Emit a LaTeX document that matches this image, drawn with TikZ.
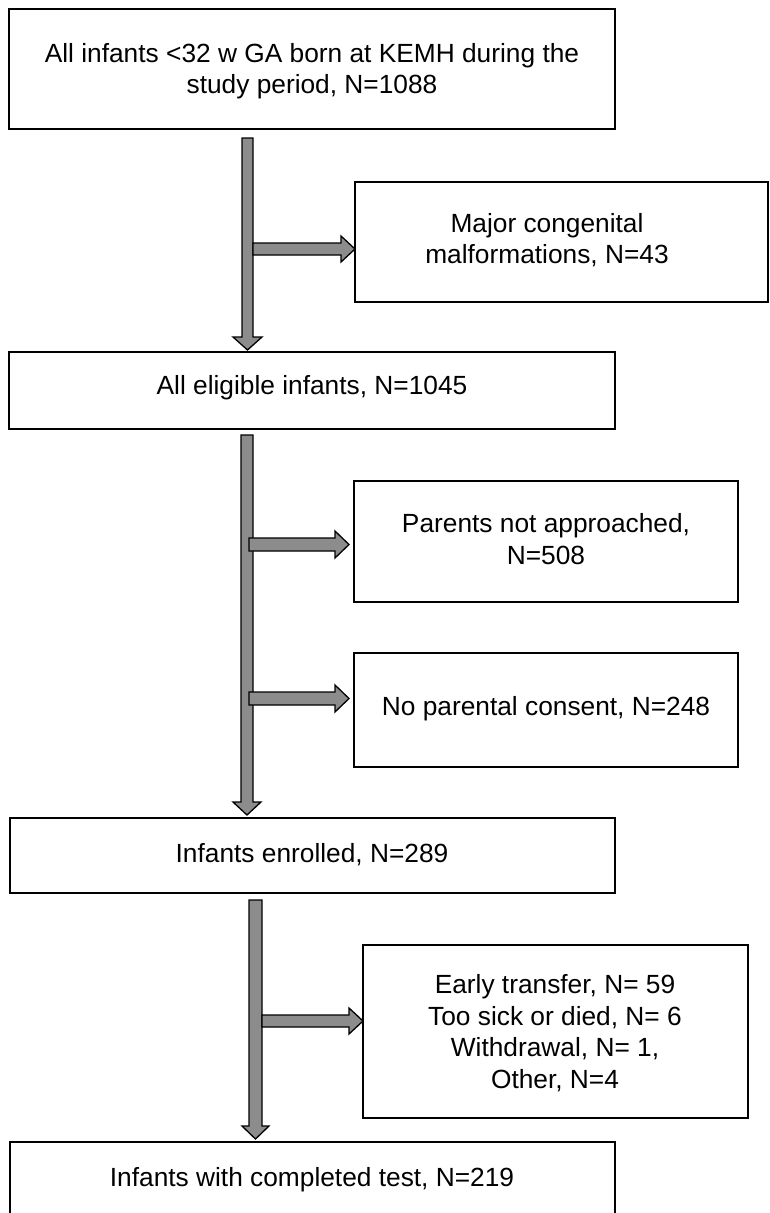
\documentclass[tikz,border=0pt]{standalone}
\usepackage{fontspec}
\setmainfont{Liberation Sans}
\definecolor{arrowgray}{RGB}{140,140,140}
\begin{document}
\begin{tikzpicture}[x=1pt,y=-1pt,
  box/.style={draw=black,line width=1.5pt,fill=white,inner sep=0pt},
  txt/.style={font=\fontsize{26.3}{31.5}\selectfont,align=center,inner sep=0pt},
  fat/.style={draw=black,line width=1.3pt,fill=arrowgray,line join=miter}]
\clip (0,0) rectangle (770,1213);
% boxes
\draw[box] (9,9) rectangle (615,129);
\node[txt] (t1) at (312,71) {All infants <32 w GA born at KEMH during the\\study period, N=1088};
\draw[box] (355,182) rectangle (768,302);
\node[txt] (t2) at (547,240) {Major congenital\\malformations, N=43};
\draw[box] (9,352) rectangle (615,429);
\node[txt] (t3) at (312,388) {All eligible infants, N=1045};
\draw[box] (354,481) rectangle (738,602);
\node[txt] (t4) at (546,539) {Parents not approached,\\N=508};
\draw[box] (354,653) rectangle (738,767);
\node[txt] (t5) at (546,709) {No parental consent, N=248};
\draw[box] (10,818) rectangle (615,893);
\node[txt] (t6) at (312,855) {Infants enrolled, N=289};
\draw[box] (363,945) rectangle (748,1118);
\node[txt] (t7) at (555,1033) {Early transfer, N= 59\\Too sick or died, N= 6\\Withdrawal, N= 1,\\Other, N=4};
\draw[box] (10,1142) rectangle (615,1230);
\node[txt] (t8) at (312,1180) {Infants with completed test, N=219};
% vertical block arrows
\draw[fat] (242,138) -- (253,138) -- (253,337) -- (262,337) -- (247.5,350) -- (233,337) -- (242,337) -- cycle;
\draw[fat] (241,435) -- (253,435) -- (253,802) -- (261,802) -- (247,815) -- (233,802) -- (241,802) -- cycle;
\draw[fat] (249,900) -- (262,900) -- (262,1126) -- (269,1126) -- (255.5,1139) -- (242,1126) -- (249,1126) -- cycle;
% horizontal block arrows
\draw[fat] (253,243) -- (341,243) -- (341,236) -- (355,249) -- (341,262) -- (341,255) -- (253,255) -- cycle;
\draw[fat] (249,538) -- (335,538) -- (335,531) -- (349,544.5) -- (335,558) -- (335,551) -- (249,551) -- cycle;
\draw[fat] (249,692) -- (335,692) -- (335,685) -- (349,698.5) -- (335,712) -- (335,705) -- (249,705) -- cycle;
\draw[fat] (262,1015) -- (349,1015) -- (349,1008) -- (363,1021) -- (349,1034) -- (349,1027) -- (262,1027) -- cycle;
\end{tikzpicture}
\end{document}
